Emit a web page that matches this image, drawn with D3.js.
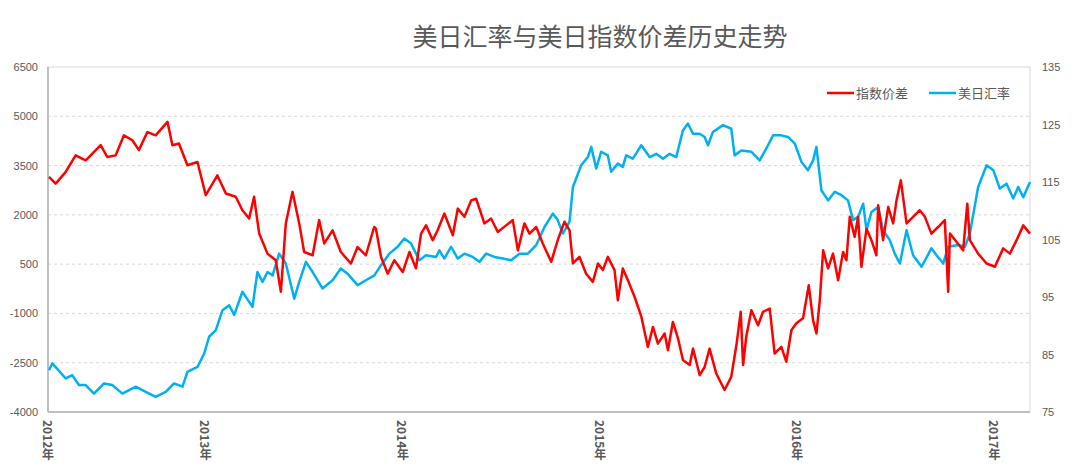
<!DOCTYPE html>
<html><head><meta charset="utf-8">
<script src="https://cdn.jsdelivr.net/npm/d3@7"></script>
<style>body{margin:0;background:#fff;font-family:"Noto Sans CJK SC","Microsoft YaHei",sans-serif}</style>
</head><body><div id="chart"></div>
<script>
var title = "美日汇率与美日指数价差历史走势"
var seriesNames = ["指数价差", "美日汇率"]
var leftTicks = [6500, 5000, 3500, 2000, 500, -1000, -2500, -4000]
var rightTicks = [135, 125, 115, 105, 95, 85, 75]
var yearTicks = [2012.2, 2013, 2014, 2015, 2016, 2017]
var yearLabels = ["2012年", "2013年", "2014年", "2015年", "2016年", "2017年"]

// 指数价差 (left axis), time as decimal year
var spreadT = [2012.205,2012.239,2012.289,2012.340,2012.391,2012.425,2012.467,2012.501,2012.543,2012.585,2012.628,2012.661,2012.704,2012.746,2012.806,2012.831,2012.864,2012.907,2012.958,2013.000,2013.059,2013.102,2013.152,2013.186,2013.220,2013.245,2013.271,2013.313,2013.355,2013.381,2013.406,2013.440,2013.474,2013.499,2013.542,2013.575,2013.601,2013.643,2013.685,2013.736,2013.770,2013.812,2013.854,
  2013.863,2013.889,2013.923,2013.956,2013.999,2014.033,2014.066,2014.092,2014.117,2014.151,2014.176,2014.210,2014.253,2014.278,2014.312,2014.346,2014.371,2014.413,2014.447,2014.481,2014.523,2014.557,2014.583,2014.616,2014.642,2014.676,2014.709,2014.752,2014.785,2014.819,2014.845,2014.862,2014.895,2014.929,2014.963,2014.989,2015.014,2015.039,2015.073,2015.090,2015.115,2015.141,2015.175,2015.209,2015.242,2015.268,2015.293,2015.327,2015.344,2015.369,2015.395,2015.420,2015.454,2015.471,2015.505,
  2015.530,2015.555,2015.589,2015.631,2015.665,2015.691,2015.713,2015.725,2015.741,2015.767,2015.801,2015.826,2015.860,2015.885,2015.919,2015.944,2015.970,2015.995,2016.029,2016.058,2016.080,2016.097,2016.114,2016.131,2016.156,2016.181,2016.207,2016.232,2016.249,2016.266,2016.291,2016.308,2016.325,2016.351,2016.376,2016.401,2016.410,2016.435,2016.461,2016.486,2016.503,2016.525,2016.554,2016.587,2016.621,2016.647,2016.680,2016.714,2016.748,2016.765,2016.774,2016.807,2016.841,2016.862,2016.875,2016.917,2016.960,2017.002,2017.044,2017.078,2017.112,2017.146,2017.180]
var spreadV = [3155,2950,3300,3810,3660,3860,4120,3760,3810,4420,4270,3970,4520,4420,4830,4120,4170,3510,3610,2600,3200,2650,2550,2140,1890,2550,1430,820,620,-340,1740,2700,1740,870,770,1840,1130,1530,870,520,1020,770,1630,
  1580,720,210,620,260,870,370,1430,1680,1230,1530,2040,1380,2190,1940,2440,2490,1740,1890,1480,1680,1840,920,1740,1430,1630,1130,570,1230,1790,1530,520,720,210,-40,520,320,720,320,-600,370,10,-500,-1100,-2020,-1410,-1920,-1610,-2120,-1260,-1760,-2420,-2570,-2070,-2880,
  -2630,-2070,-2830,-3330,-2930,-1970,-950,-2570,-1710,-900,-1360,-950,-850,-2220,-2020,-2470,-1510,-1300,-1150,-140,-1210,-1610,-600,920,370,820,10,870,620,1940,1330,1940,420,1580,1230,770,2290,1230,2240,1740,2440,3050,1740,1940,2140,1940,1430,1630,1840,-340,1430,1180,920,2340,1230,820,520,420,980,820,1230,1680,1430]

// 美日汇率 (right axis)
var fxT = [2012.205,2012.222,2012.290,2012.323,2012.357,2012.391,2012.433,2012.484,2012.526,2012.577,2012.645,2012.696,2012.746,2012.797,2012.839,2012.882,2012.907,2012.958,2012.992,2013.017,2013.051,2013.085,2013.119,2013.144,2013.186,2013.237,2013.262,2013.288,2013.313,2013.339,2013.372,2013.406,2013.449,2013.474,2013.508,2013.542,2013.592,2013.643,2013.685,2013.719,2013.770,2013.812,2013.855,
  2013.889,2013.931,2013.973,2014.007,2014.041,2014.083,2014.117,2014.168,2014.185,2014.210,2014.244,2014.278,2014.312,2014.354,2014.388,2014.422,2014.464,2014.506,2014.549,2014.591,2014.633,2014.676,2014.718,2014.760,2014.785,2014.811,2014.845,2014.862,2014.904,2014.938,2014.955,2014.980,2015.005,2015.039,2015.056,2015.090,2015.115,2015.132,2015.166,2015.209,2015.251,2015.285,2015.319,2015.352,2015.386,2015.420,2015.445,2015.471,2015.505,
  2015.530,2015.547,2015.572,2015.623,2015.665,2015.682,2015.716,2015.767,2015.809,2015.843,2015.877,2015.919,2015.953,2015.987,2016.021,2016.054,2016.080,2016.097,2016.122,2016.156,2016.190,2016.224,2016.257,2016.283,2016.308,2016.334,2016.351,2016.376,2016.410,2016.435,2016.469,2016.494,2016.520,2016.554,2016.587,2016.630,2016.680,2016.706,2016.740,2016.765,2016.816,2016.850,2016.875,2016.917,2016.960,2016.994,2017.027,2017.061,2017.095,2017.120,2017.146,2017.180]
var fxV = [82.27,83.46,80.83,81.40,79.69,79.69,78.20,79.97,79.69,78.20,79.40,78.49,77.63,78.49,79.97,79.40,81.97,82.83,85.17,88.09,89.23,92.71,93.57,91.86,95.91,93.28,99.34,97.63,99.34,98.77,102.54,100.83,94.71,97.63,101.11,99.34,96.49,97.91,99.97,99.06,97.06,97.91,98.77,
  100.54,102.54,103.74,105.17,104.31,101.40,102.26,101.97,103.11,101.69,103.74,101.69,102.54,101.97,101.11,102.54,101.97,101.69,101.40,102.54,102.54,104.03,107.17,109.51,108.37,106.03,108.09,114.14,117.91,119.34,121.11,117.34,120.26,119.63,116.77,118.20,117.63,119.63,119.06,121.40,119.34,119.91,119.06,119.91,119.34,123.97,125.17,123.40,123.40,
  122.83,121.40,123.69,124.89,124.26,119.63,120.49,120.26,118.77,120.83,123.11,123.11,122.83,121.69,118.49,117.06,118.77,121.11,113.57,111.80,113.29,112.71,111.80,108.37,108.94,111.23,106.60,109.80,110.66,106.60,104.89,102.54,100.83,106.60,102.26,100.26,103.46,102.26,100.83,103.74,104.03,103.74,106.03,114.14,117.91,117.06,113.86,114.71,112.14,114.14,112.37,115.00]

var W = 1078, H = 466
var plotL = 48, plotR = 1030, plotT = 67, plotB = 412
var gray = "#595959"

var svg = d3.select("#chart").append("svg").attr("width", W).attr("height", H)

var x = d3.scaleLinear().domain([2012.2, 2017.18]).range([plotL, plotR])
var yL = d3.scaleLinear().domain([-4000, 6500]).range([plotB, plotT])
var yR = d3.scaleLinear().domain([75, 135]).range([plotB, plotT])

svg.append("text").attr("x", 600).attr("y", 46).attr("text-anchor", "middle")
  .attr("font-size", 25).attr("fill", gray).text(title)

// gridlines
svg.append("g").selectAll("line").data(leftTicks.slice(1, -1)).join("line")
  .attr("x1", plotL).attr("x2", plotR).attr("y1", d => yL(d)).attr("y2", d => yL(d))
  .attr("stroke", "#d9d9d9").attr("stroke-dasharray", "3,3")

// frame
svg.append("rect").attr("x", plotL).attr("y", plotT).attr("width", plotR - plotL).attr("height", plotB - plotT)
  .attr("fill", "none").attr("stroke", "#d9d9d9")
svg.append("line").attr("x1", plotL).attr("x2", plotL).attr("y1", plotT).attr("y2", plotB).attr("stroke", "#bfbfbf").attr("stroke-width", 2)
svg.append("line").attr("x1", plotL).attr("x2", plotR).attr("y1", plotB).attr("y2", plotB).attr("stroke", "#bfbfbf").attr("stroke-width", 2)

// axis labels
svg.append("g").selectAll("text").data(leftTicks).join("text")
  .attr("x", 38).attr("y", d => yL(d) + 4).attr("text-anchor", "end")
  .attr("font-size", 11).attr("fill", gray).attr("font-family", "Liberation Sans, sans-serif").text(d => d)
svg.append("g").selectAll("text").data(rightTicks).join("text")
  .attr("x", 1042).attr("y", d => yR(d) + 4)
  .attr("font-size", 11).attr("fill", gray).attr("font-family", "Liberation Sans, sans-serif").text(d => d)
svg.append("g").selectAll("text").data(yearTicks).join("text")
  .attr("x", d => x(d)).attr("y", 420)
  .attr("writing-mode", "vertical-rl").attr("font-size", 12).attr("font-weight", "bold")
  .attr("fill", gray).text((d, i) => yearLabels[i])

var line = (xs, ys, sc) => d3.line().x(i => x(xs[i])).y(i => sc(ys[i]))(d3.range(xs.length))

svg.append("path").attr("d", line(fxT, fxV, yR)).attr("fill", "none")
  .attr("stroke", "#00b0f0").attr("stroke-width", 2.5).attr("stroke-linejoin", "round")
svg.append("path").attr("d", line(spreadT, spreadV, yL)).attr("fill", "none")
  .attr("stroke", "#ff0000").attr("stroke-width", 2.5).attr("stroke-linejoin", "round")

// legend
var legend = [{name: seriesNames[0], color: "#ff0000", x: 827}, {name: seriesNames[1], color: "#00b0f0", x: 929}]
var lg = svg.append("g").selectAll("g").data(legend).join("g")
lg.append("line").attr("x1", d => d.x).attr("x2", d => d.x + 27).attr("y1", 93).attr("y2", 93)
  .attr("stroke", d => d.color).attr("stroke-width", 2.5)
lg.append("text").attr("x", d => d.x + 29).attr("y", 98).attr("font-size", 13).attr("fill", gray).text(d => d.name)
</script></body></html>
